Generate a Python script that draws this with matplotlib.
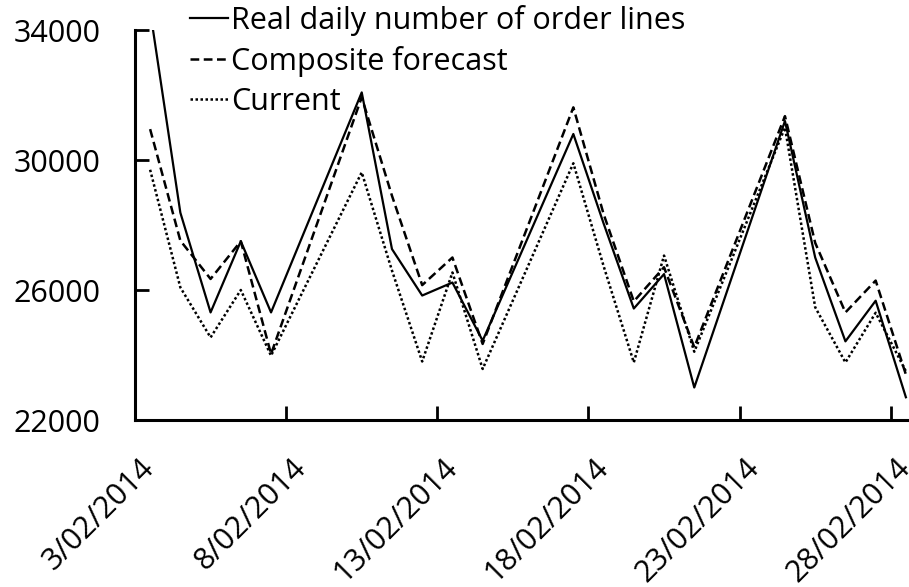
import numpy as np
import matplotlib.pyplot as plt
import matplotlib.dates as mdates
import matplotlib.ticker as mticker

plt.rcParams['font.family'] = ['Open Sans', 'DejaVu Sans']

# working days of February 2014
dates = ['2014-02-03', '2014-02-04', '2014-02-05', '2014-02-06', '2014-02-07',
         '2014-02-10', '2014-02-11', '2014-02-12', '2014-02-13', '2014-02-14',
         '2014-02-17', '2014-02-18', '2014-02-19', '2014-02-20', '2014-02-21',
         '2014-02-24', '2014-02-25', '2014-02-26', '2014-02-27', '2014-02-28']
real = [34600, 28380, 25310, 27500, 25310,
        32080, 27260, 25830, 26230, 24440,
        30800, 28050, 25430, 26490, 23000,
        31200, 27000, 24420, 25670, 22700]
composite = [30950, 27520, 26340, 27500, 24030,
             31930, 28900, 26150, 27000, 24340,
             31620, 28340, 25650, 26700, 24240,
             31350, 27450, 25310, 26290, 23400]
current = [29700, 26080, 24540, 26000, 23980,
           29620, 26600, 23800, 26540, 23570,
           29900, 26740, 23770, 27060, 24100,
           31000, 25470, 23770, 25300, 23500]
tick_dates = ['2014-02-03', '2014-02-08', '2014-02-13', '2014-02-18', '2014-02-23', '2014-02-28']
yticks = [22000, 26000, 30000, 34000]

x = np.array(dates, dtype='datetime64[D]') + np.timedelta64(12, 'h')
tk = np.array(tick_dates, dtype='datetime64[D]')

fig = plt.figure(figsize=(9.09, 5.87), dpi=100)
ax = fig.add_axes([135/909, 1 - 420/587, 786/909, 390/587])

ax.plot(x, real, color='black', lw=1.6, ls='-', label='Real daily number of order lines')
ax.plot(x, composite, color='black', lw=1.8, ls=(0, (3.5, 1.8)), label='Composite forecast')
ax.plot(x, current, color='black', lw=1.8, ls=(0, (1, 1)), label='Current')

ax.set_xlim(np.datetime64('2014-02-03'), np.datetime64('2014-03-01'))
ax.set_ylim(22000, 34000)
ax.set_yticks(yticks)
ax.yaxis.set_major_formatter(mticker.FuncFormatter(lambda v, p: f"{int(v)}"))

# labels at day centres, tick marks at day boundaries
ax.set_xticks(tk + np.timedelta64(12, 'h'))
ax.set_xticks(tk, minor=True)
ax.xaxis.set_major_formatter(mticker.FuncFormatter(
    lambda v, p: f"{mdates.num2date(v).day}/{mdates.num2date(v).month:02d}/{mdates.num2date(v).year}"))
ax.tick_params(axis='x', which='major', length=0, pad=31, labelsize=22)
ax.tick_params(axis='x', which='minor', direction='in', length=10, width=2)
ax.tick_params(axis='y', direction='in', length=10, width=2, pad=25, labelsize=22)
for lab in ax.get_xticklabels():
    lab.set_rotation(45)
    lab.set_ha('right')
    lab.set_va('center')
    lab.set_rotation_mode('anchor')

for s in ['top', 'right']:
    ax.spines[s].set_visible(False)
for s in ['left', 'bottom']:
    ax.spines[s].set_linewidth(2.2)

ax.legend(loc='upper left', bbox_to_anchor=(190/909, 1 - 5/587), bbox_transform=fig.transFigure,
          frameon=False, fontsize=22, handlelength=1.25, handletextpad=0.1,
          labelspacing=0.33, borderpad=0, borderaxespad=0)

fig.savefig('out.png', dpi=100)
